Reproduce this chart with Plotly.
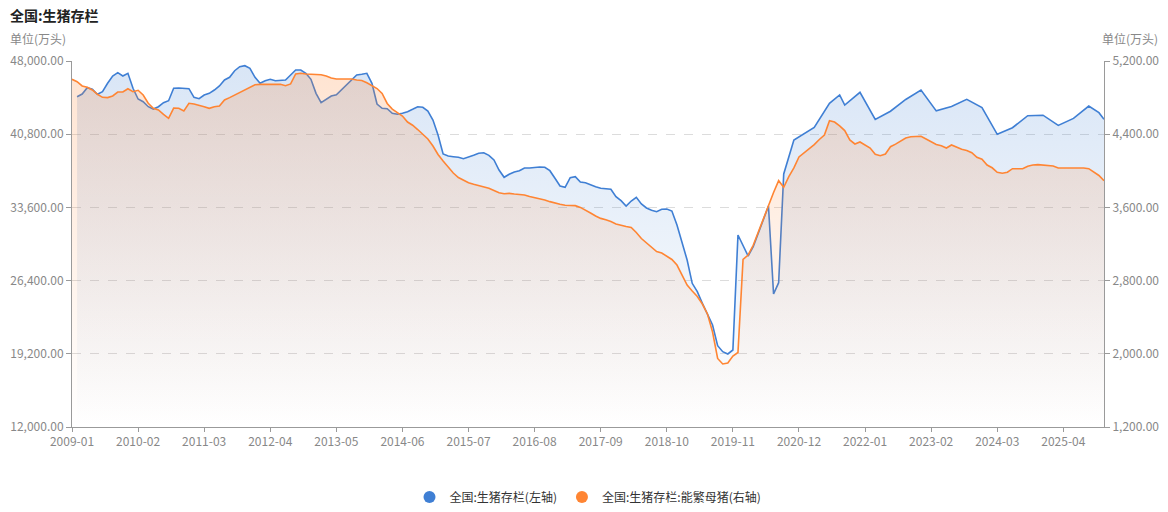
import pandas as pd
import plotly.graph_objects as go

# ---------------- data ----------------
months = [d.strftime("%Y-%m") for d in pd.date_range("2009-01-01", "2025-12-01", freq="MS")]

# 全国:生猪存栏 (万头, left axis) — None where no value for that month
hog_stock = [
    None, 44488, 44754, 45374, 45216, 44724, 44980, 45806, 46524, 46849, 46524, 46790,   # 2009
    45314, 44262, 43997, 43505, 43278, 43505, 43898, 44095, 45314, 45343, 45343, 45275,  # 2010
    44429, 44291, 44656, 44822, 45147, 45541, 46131, 46396, 47046, 47439, 47537, 47282,  # 2011
    46396, 45806, 46062, 46200, 46062, 46131, 46131, 46623, 47115, 47115, 46790, 46200,  # 2012
    44822, 43898, 44232, 44557, 44685, 45147, 45668, 46062, 46623, 46692, 46790, 45806,  # 2013
    43770, 43347, 43307, 42855, 42757, 42855, 43013, 43249, 43505, 43446, 43082, 42197,  # 2014
    40721, 38852, 38656, 38587, 38528, 38390, 38528, 38724, 38921, 38980, 38724, 38262,  # 2015
    37279, 36560, 36855, 37082, 37210, 37475, 37475, 37544, 37573, 37544, 37210, 36462,  # 2016
    35705, 35577, 36521, 36620, 36098, 36029, 35803, 35636, 35479, 35410, 35380, 34652,  # 2017
    34259, 33738, 34229, 34593, 33934, 33541, 33315, 33177, 33413, 33442, 33246, 31869,  # 2018
    30069, 28426, 26134, 25308, 24167, 23016, 22033, 19997, 19407, 19180, 19574, 30885,  # 2019
    None, 28820, 29734, 31052, 32361, 33738, 25082, 26193, 36885, None, 40229, None,     # 2020
    None, None, 41478, None, None, 43839, None, 44656, 43672, None, None, 44921,         # 2021
    None, None, 42253, None, None, 43057, None, None, 44218, None, None, 45147,          # 2022
    None, None, 43094, None, None, 43517, None, None, 44229, None, None, 43422,          # 2023
    None, None, 40790, None, None, 41440, None, None, 42620, None, None, 42670,          # 2024
    None, None, 41660, None, None, 42350, None, None, 43570, None, 42915, 42265,         # 2025
]

# 全国:生猪存栏:能繁母猪 (万头, right axis)
sow_stock = [
    5000, 4974, 4927, 4913, 4883, 4836, 4803, 4800, 4818, 4861, 4861, 4897,  # 2009
    4865, 4880, 4828, 4738, 4683, 4665, 4617, 4574, 4686, 4683, 4654, 4738,  # 2010
    4730, 4719, 4701, 4683, 4701, 4708, 4774, 4800, 4828, 4865, 4891, 4919,  # 2011
    4941, 4945, 4945, 4945, 4941, 4945, 4930, 4949, 5058, 5066, 5058, 5058,  # 2012
    5058, 5050, 5036, 5014, 5003, 5003, 5000, 5003, 4992, 4987, 4963, 4930,  # 2013
    4899, 4845, 4736, 4675, 4639, 4599, 4533, 4498, 4451, 4402, 4348, 4271,  # 2014
    4178, 4107, 4036, 3976, 3927, 3894, 3870, 3852, 3839, 3828, 3809, 3785,  # 2015
    3761, 3749, 3753, 3746, 3743, 3736, 3719, 3707, 3696, 3681, 3663, 3646,  # 2016
    3634, 3623, 3623, 3619, 3600, 3572, 3539, 3506, 3480, 3464, 3446, 3419,  # 2017
    3403, 3392, 3380, 3326, 3260, 3213, 3156, 3118, 3102, 3069, 3031, 2970,  # 2018
    2867, 2752, 2686, 2626, 2544, 2435, 2238, 1949, 1889, 1899, 1976, 2014,  # 2019
    3031, 3080, 3186, 3331, 3479, 3626, 3763, 3892, 3820, 3936, 4031, 4151,  # 2020
    4195, 4233, 4287, 4342, 4391, 4548, 4533, 4490, 4440, 4337, 4293, 4315,  # 2021
    4277, 4249, 4180, 4165, 4184, 4263, 4291, 4320, 4358, 4372, 4377, 4377,  # 2022
    4348, 4320, 4287, 4273, 4249, 4282, 4260, 4235, 4222, 4198, 4148, 4126,  # 2023
    4063, 4033, 3984, 3973, 3985, 4023, 4023, 4023, 4050, 4063, 4067, 4061,  # 2024
    4052, 4052, 4031, 4031, 4033, 4034, 4032, 4031, 4023, 3981, 3949, 3892,  # 2025
]

left_ticks = [12000, 19200, 26400, 33600, 40800, 48000]
right_ticks = [1200, 2000, 2800, 3600, 4400, 5200]
x_tick_labels = months[::13]

name_hog = "全国:生猪存栏(左轴)"
name_sow = "全国:生猪存栏:能繁母猪(右轴)"

# ---------------- style ----------------
BLUE = "#3f7fd4"
ORANGE = "#ff8533"
FONT = "Noto Sans CJK SC, Noto Sans, sans-serif"
TICK_COLOR = "#888888"
AXIS_COLOR = "#9a9a9a"

fig = go.Figure()

fig.add_trace(go.Scatter(
    x=months, y=hog_stock, yaxis="y", mode="lines", connectgaps=True,
    line=dict(color=BLUE, width=1.6),
    fill="tozeroy",
    fillgradient=dict(type="vertical",
                      colorscale=[[0, "rgba(64,128,210,0.0)"], [1, "rgba(64,128,210,0.2)"]],
                      start=left_ticks[0], stop=max(v for v in hog_stock if v is not None)),
    showlegend=False, hoverinfo="skip",
))
fig.add_trace(go.Scatter(
    x=months, y=sow_stock, yaxis="y2", mode="lines",
    line=dict(color=ORANGE, width=1.6),
    fill="tozeroy",
    fillgradient=dict(type="vertical",
                      colorscale=[[0, "rgba(255,133,51,0.0)"], [1, "rgba(255,133,51,0.22)"]],
                      start=right_ticks[0], stop=max(sow_stock)),
    showlegend=False, hoverinfo="skip",
))
# legend entries (circle symbols)
fig.add_trace(go.Scatter(x=[None], y=[None], mode="markers", name=name_hog,
                         marker=dict(color=BLUE, size=12, symbol="circle")))
fig.add_trace(go.Scatter(x=[None], y=[None], mode="markers", name=name_sow, yaxis="y2",
                         marker=dict(color=ORANGE, size=12, symbol="circle")))

W, H = 1168, 512
L, R, T, B = 72, 64, 61, 85
pw, ph = W - L - R, H - T - B

def px(xp):
    return (xp - L) / pw

def py(yp):
    return (H - B - yp) / ph

fig.update_layout(
    width=W, height=H,
    margin=dict(l=L, r=R, t=T, b=B, pad=0, autoexpand=False),
    paper_bgcolor="white", plot_bgcolor="white",
    font=dict(family=FONT, size=12, color="#333333"),
    xaxis=dict(
        type="category", categoryorder="array", categoryarray=months,
        range=[0, len(months) - 1], automargin=False,
        tickmode="array", tickvals=x_tick_labels, ticktext=x_tick_labels,
        showgrid=False, zeroline=False,
        showline=True, linecolor=AXIS_COLOR, linewidth=1,
        ticks="outside", ticklen=4, tickcolor=AXIS_COLOR,
        tickfont=dict(color=TICK_COLOR, size=12),
    ),
    yaxis=dict(
        range=[left_ticks[0], left_ticks[-1]], automargin=False,
        tickmode="array", tickvals=left_ticks, tickformat=",.2f",
        showgrid=True, gridcolor="#dcdcdc", griddash="dash", gridwidth=1,
        zeroline=False,
        showline=True, linecolor=AXIS_COLOR, linewidth=1,
        ticks="outside", ticklen=5, tickcolor=AXIS_COLOR,
        tickfont=dict(color=TICK_COLOR, size=12),
    ),
    yaxis2=dict(
        overlaying="y", side="right", automargin=False,
        range=[right_ticks[0], right_ticks[-1]],
        tickmode="array", tickvals=right_ticks, tickformat=",.2f",
        showgrid=False, zeroline=False,
        showline=True, linecolor=AXIS_COLOR, linewidth=1,
        ticks="outside", ticklen=5, tickcolor=AXIS_COLOR,
        tickfont=dict(color=TICK_COLOR, size=12),
    ),
    legend=dict(
        orientation="h", x=0.5, xanchor="center",
        yref="container", y=1 - 497 / H, yanchor="middle",
        font=dict(size=12, color="#333333"), itemsizing="trace",
        bgcolor="rgba(0,0,0,0)", tracegroupgap=0,
    ),
    annotations=[
        dict(text="<b>全国:生猪存栏</b>", xref="paper", yref="paper",
             x=px(8), y=py(15), xanchor="left", yanchor="middle", showarrow=False,
             font=dict(size=14, color="#222222", family=FONT)),
        dict(text="单位(万头)", xref="paper", yref="paper",
             x=px(8), y=py(38), xanchor="left", yanchor="middle", showarrow=False,
             font=dict(size=12, color=TICK_COLOR, family=FONT)),
        dict(text="单位(万头)", xref="paper", yref="paper",
             x=px(1160), y=py(38), xanchor="right", yanchor="middle", showarrow=False,
             font=dict(size=12, color=TICK_COLOR, family=FONT)),
    ],
)

fig.write_html("out.html")
